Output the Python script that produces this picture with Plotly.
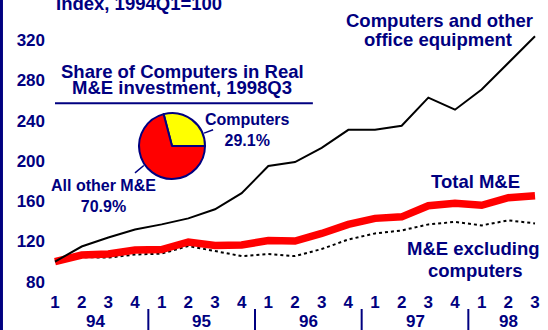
import plotly.graph_objects as go

# Quarterly index values, 1994Q1 = 100
quarter_labels = ["1", "2", "3", "4", "1", "2", "3", "4", "1", "2", "3", "4",
                  "1", "2", "3", "4", "1", "2", "3"]
year_labels = ["94", "95", "96", "97", "98"]
computers_office = [100, 115, 124, 132, 137, 143, 152, 168, 195, 199, 213, 231,
                    231, 235, 263, 251, 271, 298, 324]
total_me = [100, 106.5, 107.5, 111.5, 112, 119.5, 116, 116.5, 121, 120.5, 128, 137,
            143, 144.5, 155.5, 158, 156, 163.5, 165.5]
me_ex_computers = [100, 104.5, 104, 107, 108, 115.5, 110.5, 105.5, 107.5, 105.5,
                   112.5, 122, 128, 131, 137, 139.5, 136, 141, 138]

# Share of computers in real M&E investment, 1998Q3
share_labels = ["Computers", "All other M&E"]
share_values = [29.1, 70.9]

NAVY = "#000080"
FONT = "Liberation Sans, Arial, sans-serif"
xs = list(range(len(quarter_labels)))

fig = go.Figure()

fig.add_trace(go.Scatter(x=xs, y=me_ex_computers, mode="lines",
                         line=dict(color="black", width=2, dash="dot"),
                         hoverinfo="skip", showlegend=False))
fig.add_trace(go.Scatter(x=xs, y=total_me, mode="lines",
                         line=dict(color="#FF0000", width=7.5),
                         hoverinfo="skip", showlegend=False))
fig.add_trace(go.Scatter(x=xs, y=computers_office, mode="lines",
                         line=dict(color="black", width=2),
                         hoverinfo="skip", showlegend=False))

# Computers slice runs from 3 o'clock counterclockwise towards 12 o'clock
computer_angle = 360 * share_values[0] / sum(share_values)
fig.add_trace(go.Pie(labels=share_labels, values=share_values, sort=False,
                     direction="counterclockwise", rotation=90 - computer_angle,
                     marker=dict(colors=["#FFFF00", "#FF0000"],
                                 line=dict(color=NAVY, width=2)),
                     textinfo="none", hoverinfo="skip", showlegend=False,
                     domain=dict(x=[0.1853, 0.3167], y=[0.3793, 0.6138])))


def label(text, x, y, size=18.5, xanchor="center", xref="x", yref="y"):
    fig.add_annotation(text=f"<b>{text}</b>", x=x, y=y, xref=xref, yref=yref,
                       xanchor=xanchor, yanchor="middle", showarrow=False,
                       font=dict(family=FONT, size=size, color=NAVY))


label("Index, 1994Q1=100", -0.05, 356.5, xanchor="left")
label("Computers and other", 14.4, 339.8)
label("office equipment", 14.36, 320.5)
label("Total M&E", 15.75, 179.5)
label("M&E excluding", 15.71, 113.5)
label("computers", 15.75, 91.6)
label("Share of Computers in Real", 4.78, 288.7)
label("M&E investment, 1998Q3", 4.78, 272.8)
label("Computers<br>29.1%", 7.2, 230.7, size=16)
label("All other M&E<br>70.9%", 1.8, 165.6, size=16)

# Year labels centred under each group of quarters
year_centres = [1.5, 5.5, 9.5, 13.5, 17]
for yr, xc in zip(year_labels, year_centres):
    label(yr, xc, -0.1086, size=17, yref="paper")

shapes = []
# Underline of the inset title
shapes.append(dict(type="line", xref="x", yref="y", x0=0, x1=9.67, y0=257.5, y1=257.5,
                   line=dict(color=NAVY, width=2)))
# Pie leader lines
shapes.append(dict(type="line", xref="x", yref="y", x0=5.59, y0=227.7, x1=5.93, y1=231,
                   line=dict(color=NAVY, width=1.5)))
shapes.append(dict(type="line", xref="x", yref="y", x0=3.33, y0=195.5, x1=3.0, y1=188.2,
                   line=dict(color=NAVY, width=1.5)))
# Separators between years
for xb in [3.5, 7.5, 11.5, 15.5]:
    shapes.append(dict(type="line", xref="x", yref="paper", x0=xb, x1=xb,
                       y0=-0.0655, y1=-0.15, line=dict(color=NAVY, width=2)))
# Left frame edge
shapes.append(dict(type="line", xref="paper", yref="paper", x0=-0.0887, x1=-0.0887,
                   y0=-0.2, y1=1.05, line=dict(color=NAVY, width=3)))

fig.update_layout(
    width=548, height=330,
    margin=dict(l=46, r=0, t=0, b=40),
    paper_bgcolor="white", plot_bgcolor="white",
    shapes=shapes,
    xaxis=dict(range=[-0.3375, 18.4875], tickmode="array", tickvals=xs,
               ticktext=quarter_labels, showgrid=False, zeroline=False,
               showline=False, ticks="", fixedrange=True,
               tickfont=dict(family=FONT, size=17, color=NAVY, weight="bold")),
    yaxis=dict(range=[71.8, 360], tickmode="array", tickvals=[80, 120, 160, 200, 240, 280, 320],
               showgrid=False, zeroline=False, showline=False, ticks="", fixedrange=True,
               tickfont=dict(family=FONT, size=17, color=NAVY, weight="bold")),
)

fig.write_html("out.html")
